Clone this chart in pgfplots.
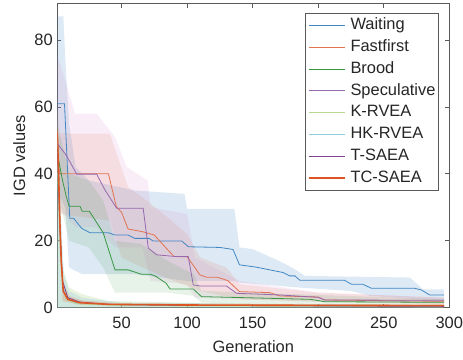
\documentclass[border=0pt]{standalone}
\usepackage{fontspec}
\setmainfont{Liberation Sans}
\usepackage{pgfplots}
\pgfplotsset{compat=1.18}
\definecolor{cW}{RGB}{65,135,195}
\definecolor{cF}{RGB}{225,115,80}
\definecolor{cB}{RGB}{55,150,65}
\definecolor{cS}{RGB}{150,105,175}
\definecolor{cK}{RGB}{185,215,145}
\definecolor{cH}{RGB}{145,205,225}
\definecolor{cT}{RGB}{130,65,140}
\definecolor{cC}{RGB}{220,85,35}
\definecolor{bS}{RGB}{215,140,205}
\definecolor{axc}{RGB}{90,90,90}
\definecolor{txt}{RGB}{38,38,38}
\begin{document}
\begin{tikzpicture}
\begin{axis}[
  scale only axis, width=392bp, height=304bp,
  xmin=1, xmax=300, ymin=0, ymax=90.8,
  xtick={50,100,...,300}, ytick={0,20,...,80},
  tick align=inside, major tick length=4bp,
  axis line style={axc, line width=0.6bp},
  every tick/.style={axc, line width=0.6bp},
  /pgf/number format/assume math mode=true,
  tick label style={font=\fontsize{16.5}{20}\selectfont, text=txt},
  xticklabel style={yshift=-6bp},
  yticklabel style={xshift=-1bp},
  label style={font=\fontsize{16.5}{20}\selectfont, text=txt},
  xlabel={Generation}, ylabel={IGD values},
  xlabel style={at={(axis description cs:0.5,-0.128)}, anchor=center},
  ylabel style={at={(axis description cs:-0.097,0.5)}, anchor=center},
  no markers,
  legend style={at={(rel axis cs:1,1)}, anchor=north east, xshift=-10.5bp, yshift=-9bp,
    draw=axc, line width=0.6bp, fill=white, text=txt,
    font=\fontsize{16.5}{20}\selectfont,
    inner xsep=3bp, inner ysep=5bp,
    nodes={inner sep=0pt, text height=11.8bp, text depth=3bp},
    row sep=7bp,
    /tikz/every odd column/.append style={column sep=5bp}},
  legend cell align=left,
  legend image code/.code={\draw[#1] (0bp,0bp) -- (36bp,0bp);},
]
% ---- bands ----
\addplot[forget plot, draw=none, fill=cW, fill opacity=0.18] coordinates {
(1,87)(5.6,87)(7,75)(10,55)(15,42)(25,38)(60,35)(98,34)(100,29.5)(136,29.5)(140,18)(150,17.5)(170,14)(180,12)(190,9.5)(270,9)(280,5.5)(296,5.5)
(296,2.3)(285,2.3)(240,3.5)(225,5)(186,6)(140,7.5)(136,8)(100,8)(60,10)(20,10)(10,12)(7,30)(1,35)} -- cycle;
\addplot[forget plot, draw=none, fill=cF, fill opacity=0.14] coordinates {
(1,60)(3,52)(41,52)(48,44)(55,36)(66,33)(85,27)(100,22)(110,15)(130,12)(140,7)(200,4.5)(296,3)
(296,1)(200,1.8)(140,2.5)(110,5)(90,8)(66,12)(50,15)(41,26)(3,28)(1,45)} -- cycle;
\addplot[forget plot, draw=none, fill=bS, fill opacity=0.15] coordinates {
(1,75)(4,72)(14.5,58)(31,58)(45,51)(54,42)(70,38)(72,30)(100,28)(106,15)(140,8)(200,4.5)(296,3)
(296,1.3)(200,1.8)(140,2.5)(106,3)(100,7)(72,8)(66,18)(45,18)(31,24)(15,24)(1,30)} -- cycle;
\addplot[forget plot, draw=none, fill=cB, fill opacity=0.12] coordinates {
(1,55)(10,40)(25,38)(36,32)(45,20)(65,19)(85,14)(105,10)(111,5)(200,3.8)(296,2.5)
(296,0.8)(200,1.2)(111,1.5)(105,3.5)(85,4.5)(45,4.5)(36,12)(25,18)(10,20)(1,35)} -- cycle;
\addplot[forget plot, draw=none, fill=cK, fill opacity=0.3] coordinates {
(1,52)(3,30)(5,12)(10,6)(20,4)(40,2)(100,1.5)(296,0.8)(296,0)(1,0)} -- cycle;
\addplot[forget plot, draw=none, fill=cH, fill opacity=0.3] coordinates {
(1,60)(3,35)(6,10)(10,5)(20,3)(50,1.5)(296,0.8)(296,0)(1,0)} -- cycle;
\addplot[forget plot, draw=none, fill=cC, fill opacity=0.2] coordinates {
(1,56)(3,30)(5,8)(10,3.5)(20,2.2)(50,1.3)(296,1)(296,0.2)(20,0.8)(5,2)(1,48)} -- cycle;
% ---- lines ----
\addplot[cW, line width=0.8bp] coordinates {
(1,60.9)(6.5,60.9)(10.5,26.7)(13.5,26.7)(19.6,23.7)(25.9,22.4)(40,22.4)(45,21.7)(55,21.7)(60.2,20.7)(71,20.7)(74.2,19.9)(96,19.9)(101,18.2)(125,18.0)(135,17.4)(140,12.8)(153,12.1)(165.6,11.1)(173.3,10.5)(178.4,9.5)(182.2,9.5)(186,8.2)(220,8.2)(225.4,7.0)(234,7.0)(240.6,5.8)(273.6,5.8)(278.7,5.3)(285,3.8)(296,3.8)};
\addlegendentry{Waiting}
\addplot[cF, line width=0.8bp] coordinates {
(1,53)(2.5,40)(40,40)(46,30.2)(50,28.5)(55,23.5)(66,22.7)(75,21.7)(84,17.8)(90,15.3)(100,15.2)(105,12.5)(109.8,9.8)(115,9.1)(123,9.1)(131,8.1)(140,4.8)(163,4.5)(171,3.5)(200,3.2)(205,2.3)(296,1.9)};
\addlegendentry{Fastfirst}
\addplot[cB, line width=0.8bp] coordinates {
(1,46)(5,38)(8,33)(10,30.3)(18.3,30.3)(20,28.8)(25.5,28.8)(36,22.4)(45,11.3)(55,11.3)(65,10)(72,10)(76,9.4)(84,7.3)(87,5.6)(104.7,5.6)(111,3.3)(133,3.1)(194,2.5)(205,1.8)(296,1.6)};
\addlegendentry{Brood}
\addplot[cS, line width=0.8bp] coordinates {
(1,49)(7,46)(10,44)(15.8,39.9)(31,39.9)(37.3,35.2)(46.3,29.7)(66.5,29.7)(70.4,17.8)(76.8,15.8)(90.7,15.3)(100.9,15.3)(104.7,6.8)(109.8,6.5)(130,6.5)(137.7,4.3)(170.7,3.8)(200,3.1)(205,2.3)(296,2.2)};
\addlegendentry{Speculative}
\addplot[cK, line width=0.8bp] coordinates {
(1,45)(3,20)(5,6)(8,2.5)(15,1.2)(50,0.6)(296,0.3)};
\addlegendentry{K-RVEA}
\addplot[cH, line width=0.8bp] coordinates {
(1,50)(3,22)(5,7)(8,3)(15,1.5)(50,0.8)(296,0.4)};
\addlegendentry{HK-RVEA}
\addplot[cT, line width=0.8bp] coordinates {
(1,48)(3,24)(5,8)(9,3)(18,1.7)(40,1.0)(100,0.7)(296,0.4)};
\addlegendentry{T-SAEA}
\addplot[cC, line width=1.6bp] coordinates {
(1,52)(2,40)(3,25)(4,14)(5.5,5)(9,2.5)(18,1.5)(40,1.0)(100,0.8)(296,0.6)};
\addlegendentry{TC-SAEA}
\end{axis}
\pgfresetboundingbox
\path (-57.3bp,-52.3bp) rectangle (405.7bp,307.7bp);
\end{tikzpicture}
\end{document}
